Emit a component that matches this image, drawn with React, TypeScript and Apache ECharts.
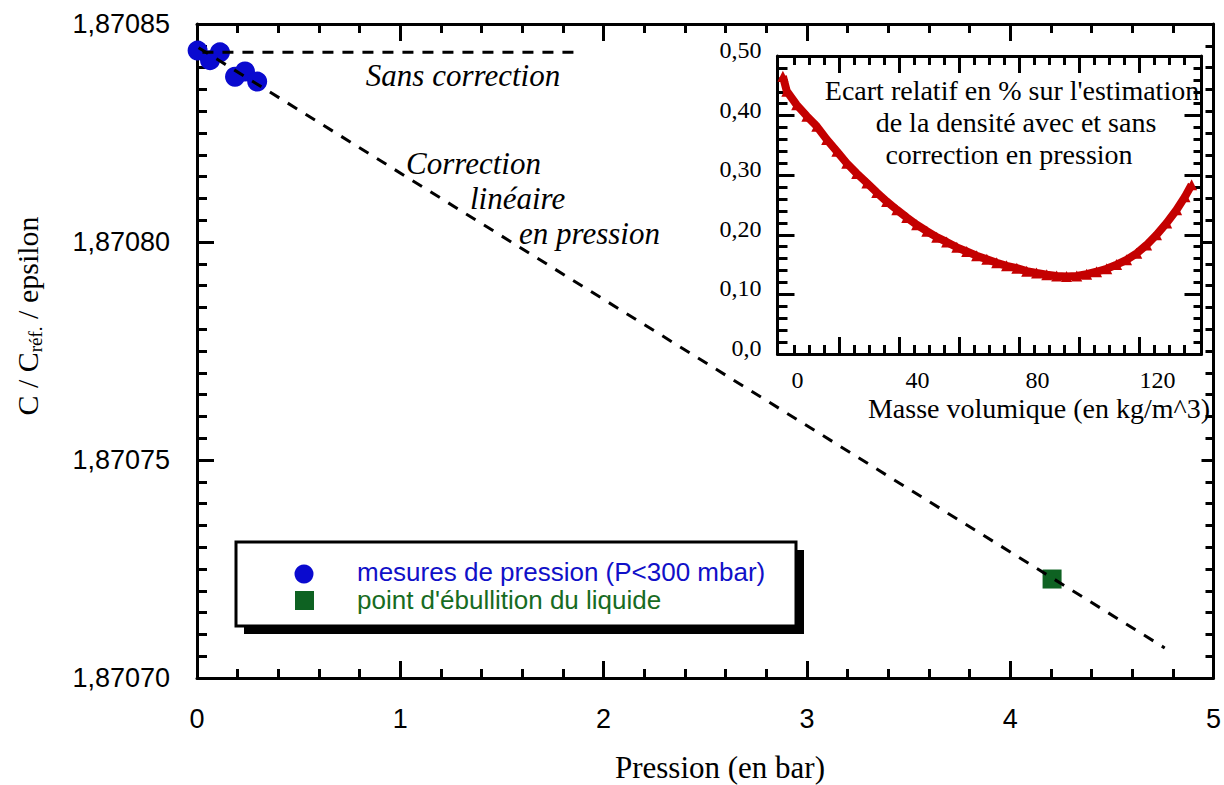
import React, { useEffect, useRef } from "react";
import * as echarts from "echarts";

// ---- Main chart data ----
const pressureMeasX = [0.003, 0.064, 0.113, 0.187, 0.236, 0.296];
const pressureMeasY = [1.8708439, 1.8708417, 1.8708435, 1.8708379, 1.8708391, 1.8708368];
const boilingX = [4.206];
const boilingY = [1.8707227];
const fitX = [-0.08, 4.76];
const fitY = [1.8708471, 1.8707069];
const noCorrX = [-0.17, 1.88];
const noCorrY = [1.8708435, 1.8708435];
const pressureTicks = [0, 1, 2, 3, 4, 5];
const ratioTicks = [1.8707, 1.87075, 1.8708, 1.87085];

// ---- Inset data ----
const densityX = [
  -4.9, -3.6, -0.3, 3.1, 6.4, 9.7, 13.1, 16.4, 19.7, 23.1, 26.4, 29.7, 33.1, 36.4, 39.7,
  43.1, 46.4, 49.7, 53.1, 56.4, 59.7, 63.1, 66.4, 69.7, 73.1, 76.4, 79.7, 83.1, 86.4, 89.7,
  93.1, 96.4, 99.7, 103.1, 106.4, 109.7, 113.1, 116.4, 119.7, 123.1, 126.4, 129.2, 131.4,
];
const deviationY = [
  0.466, 0.441, 0.418, 0.399, 0.382, 0.36, 0.34, 0.32, 0.303, 0.287, 0.271, 0.256, 0.242, 0.229, 0.217,
  0.206, 0.196, 0.188, 0.179, 0.172, 0.165, 0.159, 0.153, 0.148, 0.144, 0.139, 0.136, 0.133, 0.131, 0.13,
  0.131, 0.134, 0.138, 0.143, 0.15, 0.158, 0.169, 0.183, 0.2, 0.22, 0.242, 0.264, 0.284,
];
const densityLabels = [0, 40, 80, 120];
const densityMajorTicks = [14, 34, 54, 74, 94, 114];
const densityMinorTicks = [-1, 4, 9, 19, 24, 29, 39, 44, 49, 59, 64, 69, 79, 84, 89, 99, 104, 109, 119, 124, 129];

const SANS = '"Liberation Sans", Arial, sans-serif';
const SERIF = '"Liberation Serif", "Times New Roman", serif';
const BLUE = "#0A0ACF";
const GREEN = "#0E6222";
const RED = "#C40000";
const TICK = "#000";

const zip = (xs: number[], ys: number[]) => xs.map((x, i) => [x, ys[i]]);

export default function App() {
  const ref = useRef<HTMLDivElement>(null);
  useEffect(() => {
    if (!ref.current) return;
    const chart = echarts.init(ref.current, undefined, { renderer: "svg" });

    const lineF = () => ({ show: true, onZero: false, lineStyle: { color: "#000", width: 3 } });
    const tick = (len: number, extra: any = {}) => ({
      show: true, inside: true, length: len, lineStyle: { color: TICK, width: 3 }, ...extra,
    });
    const minor = (len: number, split: number) => ({
      show: true, length: len, splitNumber: split, lineStyle: { color: TICK, width: 3 },
    });

    const option: any = {
      animation: false,
      grid: [
        { left: 197, top: 24, width: 1017, height: 654 },
        { left: 777.5, top: 56, width: 424, height: 298 },
      ],
      xAxis: [
        {
          gridIndex: 0, type: "value", position: "bottom", min: 0, max: 5, interval: 1,
          axisLine: lineF(), axisTick: tick(17), minorTick: minor(9, 5),
          splitLine: { show: false },
          axisLabel: {
            show: true, margin: 27, color: "#000", fontFamily: SANS, fontSize: 27,
            formatter: (v: number) => (pressureTicks.includes(Math.round(v)) ? String(Math.round(v)) : ""),
          },
        },
        {
          gridIndex: 0, type: "value", position: "top", min: 0, max: 5, interval: 1,
          axisLine: lineF(), axisTick: tick(17), minorTick: minor(9, 5),
          splitLine: { show: false }, axisLabel: { show: false },
        },
        {
          gridIndex: 1, type: "value", position: "bottom", min: -6.7, max: 134.7,
          axisLine: lineF(),
          axisTick: tick(17, { customValues: densityMajorTicks }),
          splitLine: { show: false },
          axisLabel: {
            show: true, customValues: densityLabels, margin: 14, color: "#000",
            fontFamily: SERIF, fontSize: 24,
          },
        },
        {
          gridIndex: 1, type: "value", position: "top", min: -6.7, max: 134.7,
          axisLine: lineF(),
          axisTick: tick(17, { customValues: densityMajorTicks }),
          splitLine: { show: false }, axisLabel: { show: false },
        },
        {
          gridIndex: 1, type: "value", position: "bottom", min: -6.7, max: 134.7,
          axisLine: { show: false, onZero: false },
          axisTick: tick(9, { customValues: densityMinorTicks }),
          splitLine: { show: false }, axisLabel: { show: false },
        },
        {
          gridIndex: 1, type: "value", position: "top", min: -6.7, max: 134.7,
          axisLine: { show: false, onZero: false },
          axisTick: tick(9, { customValues: densityMinorTicks }),
          splitLine: { show: false }, axisLabel: { show: false },
        },
      ],
      yAxis: [
        {
          gridIndex: 0, type: "value", position: "left", min: 1.8707, max: 1.87085, interval: 0.00005,
          axisLine: lineF(), axisTick: tick(17), minorTick: minor(10, 10),
          splitLine: { show: false },
          axisLabel: {
            show: true, margin: 27, color: "#000", fontFamily: SANS, fontSize: 27,
            formatter: (v: number) => {
              const t = ratioTicks.find((r) => Math.abs(r - v) < 1e-9);
              return t === undefined ? "" : t.toFixed(5).replace(".", ",");
            },
          },
        },
        {
          gridIndex: 0, type: "value", position: "right", min: 1.8707, max: 1.87085, interval: 0.00005,
          axisLine: lineF(), axisTick: tick(12), minorTick: minor(8, 10),
          splitLine: { show: false }, axisLabel: { show: false },
        },
        {
          gridIndex: 1, type: "value", position: "left", min: 0, max: 0.5, interval: 0.1,
          axisLine: lineF(), axisTick: tick(17), minorTick: minor(10, 5),
          splitLine: { show: false },
          axisLabel: {
            show: true, margin: 16, color: "#000", fontFamily: SERIF, fontSize: 24,
            verticalAlign: "bottom", lineHeight: 12,
            formatter: (v: number) => (Math.abs(v) < 1e-9 ? "0,0" : v.toFixed(2).replace(".", ",")),
          },
        },
        {
          gridIndex: 1, type: "value", position: "right", min: 0, max: 0.5, interval: 0.1,
          axisLine: lineF(), axisTick: tick(17), minorTick: minor(8, 5),
          splitLine: { show: false }, axisLabel: { show: false },
        },
      ],
      series: [
        {
          type: "scatter", xAxisIndex: 0, yAxisIndex: 0, data: zip(pressureMeasX, pressureMeasY),
          symbol: "circle", symbolSize: 20, itemStyle: { color: BLUE, opacity: 1 }, clip: false, z: 2,
        },
        {
          type: "scatter", xAxisIndex: 0, yAxisIndex: 0, data: zip(boilingX, boilingY),
          symbol: "rect", symbolSize: 19, itemStyle: { color: GREEN, opacity: 1 }, clip: false, z: 2,
        },
        {
          type: "line", xAxisIndex: 0, yAxisIndex: 0, data: zip(fitX, fitY), symbol: "none",
          lineStyle: { color: "#000", width: 3, type: [11, 10] }, clip: false, z: 3,
        },
        {
          type: "line", xAxisIndex: 0, yAxisIndex: 0, data: zip(noCorrX, noCorrY), symbol: "none",
          lineStyle: { color: "#000", width: 3, type: [11, 9] }, clip: false, z: 3,
        },
        {
          type: "line", xAxisIndex: 2, yAxisIndex: 2, data: zip(densityX, deviationY),
          symbol: "triangle", symbolSize: 11, showSymbol: true,
          itemStyle: { color: RED, opacity: 1 }, lineStyle: { color: RED, width: 8 }, clip: false, z: 5,
        },
      ],
      graphic: [
        {
          type: "text", x: 27, y: 316, rotation: Math.PI / 2, z: 100,
          style: {
            text: "{a|C / C}{s|réf.}{a| / epsilon}",
            rich: {
              a: { fontFamily: SERIF, fontSize: 30, fill: "#000" },
              s: { fontFamily: SERIF, fontSize: 19, fill: "#000", padding: [16, 0, 0, 0] },
            },
            align: "center", verticalAlign: "middle",
          },
        },
        {
          type: "text", x: 720, y: 767, z: 100,
          style: { text: "Pression (en bar)", fontFamily: SERIF, fontSize: 31, fill: "#000", align: "center", verticalAlign: "middle" },
        },
        {
          type: "text", x: 463, y: 75, z: 100,
          style: { text: "Sans correction", fontFamily: SERIF, fontStyle: "italic", fontSize: 31, fill: "#000", align: "center", verticalAlign: "middle" },
        },
        {
          type: "text", x: 406, y: 163, z: 100,
          style: { text: "Correction", fontFamily: SERIF, fontStyle: "italic", fontSize: 31, fill: "#000", align: "left", verticalAlign: "middle" },
        },
        {
          type: "text", x: 470, y: 198, z: 100,
          style: { text: "linéaire", fontFamily: SERIF, fontStyle: "italic", fontSize: 31, fill: "#000", align: "left", verticalAlign: "middle" },
        },
        {
          type: "text", x: 519, y: 233, z: 100,
          style: { text: "en pression", fontFamily: SERIF, fontStyle: "italic", fontSize: 31, fill: "#000", align: "left", verticalAlign: "middle" },
        },
        {
          type: "text", x: 1012, y: 90, z: 100,
          style: { text: "Ecart relatif en % sur l'estimation", fontFamily: SERIF, fontSize: 28, fill: "#000", align: "center", verticalAlign: "middle" },
        },
        {
          type: "text", x: 1016, y: 122, z: 100,
          style: { text: "de la densité avec et sans", fontFamily: SERIF, fontSize: 28, fill: "#000", align: "center", verticalAlign: "middle" },
        },
        {
          type: "text", x: 1009, y: 154, z: 100,
          style: { text: "correction en pression", fontFamily: SERIF, fontSize: 28, fill: "#000", align: "center", verticalAlign: "middle" },
        },
        {
          type: "text", x: 1039, y: 408, z: 100,
          style: { text: "Masse volumique (en kg/m^3)", fontFamily: SERIF, fontSize: 28, fill: "#000", align: "center", verticalAlign: "middle" },
        },
        { type: "rect", z: 100, shape: { x: 244, y: 550, width: 560, height: 84 }, style: { fill: "#000" } },
        { type: "rect", z: 101, shape: { x: 236, y: 542, width: 560, height: 84 }, style: { fill: "#fff", stroke: "#000", lineWidth: 3 } },
        { type: "circle", z: 102, shape: { cx: 304, cy: 574, r: 9.5 }, style: { fill: BLUE } },
        { type: "rect", z: 102, shape: { x: 295, y: 591, width: 19, height: 19 }, style: { fill: GREEN } },
        {
          type: "text", x: 357, y: 572, z: 102,
          style: { text: "mesures de pression (P<300 mbar)", fontFamily: SANS, fontSize: 26, fill: "#1010C8", align: "left", verticalAlign: "middle" },
        },
        {
          type: "text", x: 357, y: 600, z: 102,
          style: { text: "point d'ébullition du liquide", fontFamily: SANS, fontSize: 26, fill: "#176B22", align: "left", verticalAlign: "middle" },
        },
      ],
    };

    chart.setOption(option);
    return () => chart.dispose();
  }, []);

  return (
    <div
      ref={ref}
      style={{ position: "fixed", left: 0, top: 0, width: 1224, height: 785, background: "#fff" }}
    />
  );
}
